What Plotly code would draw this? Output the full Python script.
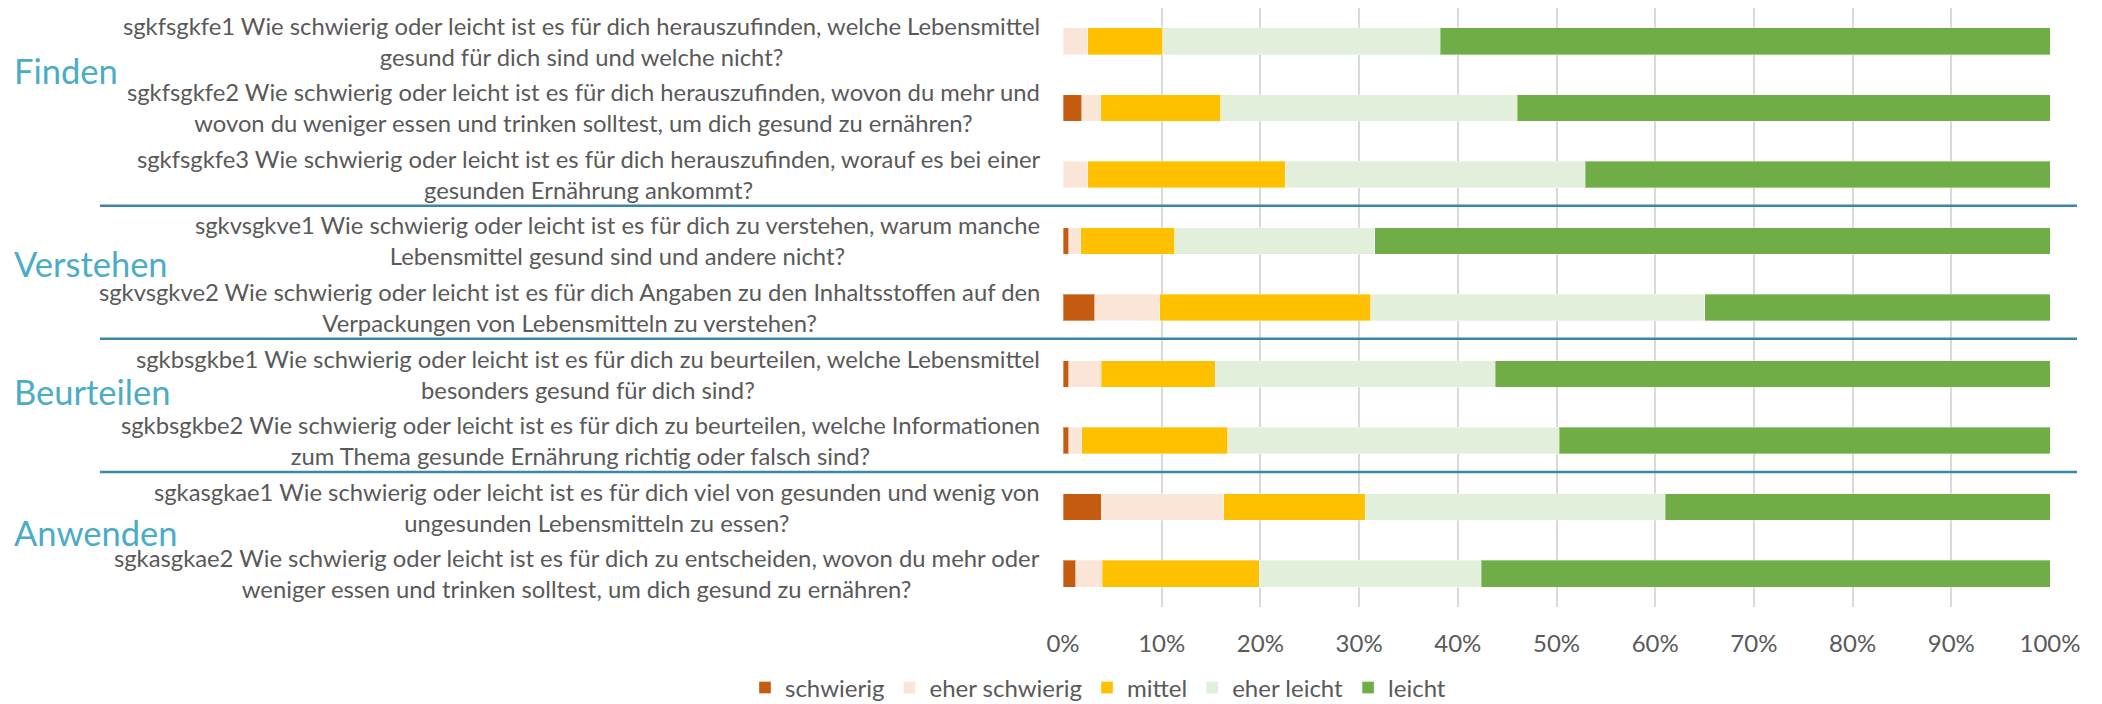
import plotly.graph_objects as go

# ---- data -------------------------------------------------------------
categories = [
    "sgkfsgkfe1 Wie schwierig oder leicht ist es für dich herauszufinden, welche Lebensmittel<br>gesund für dich sind und welche nicht?",
    "sgkfsgkfe2 Wie schwierig oder leicht ist es für dich herauszufinden, wovon du mehr und<br>wovon du weniger essen und trinken solltest, um dich gesund zu ernähren?",
    "sgkfsgkfe3 Wie schwierig oder leicht ist es für dich herauszufinden, worauf es bei einer<br>gesunden Ernährung ankommt?",
    "sgkvsgkve1 Wie schwierig oder leicht ist es für dich zu verstehen, warum manche<br>Lebensmittel gesund sind und andere nicht?",
    "sgkvsgkve2 Wie schwierig oder leicht ist es für dich Angaben zu den Inhaltsstoffen auf den<br>Verpackungen von Lebensmitteln zu verstehen?",
    "sgkbsgkbe1 Wie schwierig oder leicht ist es für dich zu beurteilen, welche Lebensmittel<br>besonders gesund für dich sind?",
    "sgkbsgkbe2 Wie schwierig oder leicht ist es für dich zu beurteilen, welche Informationen<br>zum Thema gesunde Ernährung richtig oder falsch sind?",
    "sgkasgkae1 Wie schwierig oder leicht ist es für dich viel von gesunden und wenig von<br>ungesunden Lebensmitteln zu essen?",
    "sgkasgkae2 Wie schwierig oder leicht ist es für dich zu entscheiden, wovon du mehr oder<br>weniger essen und trinken solltest, um dich gesund zu ernähren?",
]

series_names = ["schwierig", "eher schwierig", "mittel", "eher leicht", "leicht"]

schwierig      = [0.0, 1.9, 0.0, 0.6, 3.2, 0.6, 0.6, 3.9, 1.3]
eher_schwierig = [2.5, 1.9, 2.5, 1.2, 6.6, 3.3, 1.3, 12.4, 2.7]
mittel         = [7.6, 12.2, 20.0, 9.5, 21.4, 11.5, 14.8, 14.3, 15.9]
eher_leicht    = [28.1, 30.0, 30.4, 20.3, 33.8, 28.4, 33.6, 30.4, 22.5]
leicht         = [61.8, 54.0, 47.1, 68.4, 35.0, 56.2, 49.7, 39.0, 57.6]

group_names = ["Finden", "Verstehen", "Beurteilen", "Anwenden"]
group_sizes = [3, 2, 2, 2]

x_ticks = [0, 10, 20, 30, 40, 50, 60, 70, 80, 90, 100]

# ---- style --------------------------------------------------------------
colors = ["#C55A11", "#FBE5D6", "#FFC000", "#E2EFDA", "#70AD47"]
text_color = "#595959"
group_color = "#4BACC6"
sep_color = "#3A86A8"
FONT = "Lato"

# the page body has an 8px default margin -> figure sized to fill the window
OFF = 8
W, H = 2102 - OFF, 704 - OFF
L, R, T, B = 1055, 52, 0, 97
plot_w = W - L - R
plot_h = H - T - B

def px_to_paper_x(px):
    return (px - L) / plot_w

def px_to_paper_y(py):
    return (H - B - py) / plot_h

fig = go.Figure()
values = [schwierig, eher_schwierig, mittel, eher_leicht, leicht]
for name, vals, col in zip(series_names, values, colors):
    fig.add_trace(go.Bar(
        y=categories, x=vals, name=name, orientation="h",
        marker=dict(color=col, line=dict(color="rgba(255,255,255,0.35)", width=1)),
    ))

# category labels (centered multi-line blocks, right-aligned to axis)
for cat in categories:
    fig.add_annotation(
        x=px_to_paper_x(1034), xref="paper", y=cat, yref="y",
        text=cat, showarrow=False, xanchor="right", yanchor="middle",
        align="center", font=dict(family=FONT, size=23.8, color=text_color),
    )

# group labels
group_label_py = [62, 256, 383, 524]
for g, py in zip(group_names, group_label_py):
    fig.add_annotation(
        x=px_to_paper_x(4), xref="paper", y=px_to_paper_y(py), yref="paper",
        text=g, showarrow=False, xanchor="left", yanchor="middle",
        font=dict(family=FONT, size=34.5, color=group_color),
    )

# group separators
pos = 0
for size in group_sizes[:-1]:
    pos += size
    yb = pos - 0.5 - 0.03
    fig.add_shape(
        type="line", xref="paper", yref="y",
        x0=px_to_paper_x(92), x1=px_to_paper_x(2069), y0=yb, y1=yb,
        line=dict(color=sep_color, width=2.5),
    )

fig.update_layout(
    width=W, height=H,
    margin=dict(l=L, r=R, t=T, b=B, autoexpand=False),
    barmode="stack", bargap=0.6,
    plot_bgcolor="white", paper_bgcolor="white",
    font=dict(family=FONT, size=24, color=text_color),
    showlegend=True,
    legend=dict(
        orientation="h", x=px_to_paper_x(1090), xanchor="center",
        y=px_to_paper_y(680), yanchor="middle",
        font=dict(family=FONT, size=24, color=text_color),
        traceorder="normal", itemclick=False,
    ),
    xaxis=dict(
        range=[0, 100], tickvals=x_ticks, ticktext=[f"{v}%" for v in x_ticks],
        showgrid=True, gridcolor="#D9D9D9", gridwidth=1.5,
        zeroline=False, showline=False, ticks="",
        tickfont=dict(family=FONT, size=24, color=text_color),
        ticklabelstandoff=20, fixedrange=True,
    ),
    yaxis=dict(
        autorange="reversed", showticklabels=False, showgrid=False,
        zeroline=False, showline=False, ticks="", fixedrange=True,
    ),
)

fig.write_html("out.html")
